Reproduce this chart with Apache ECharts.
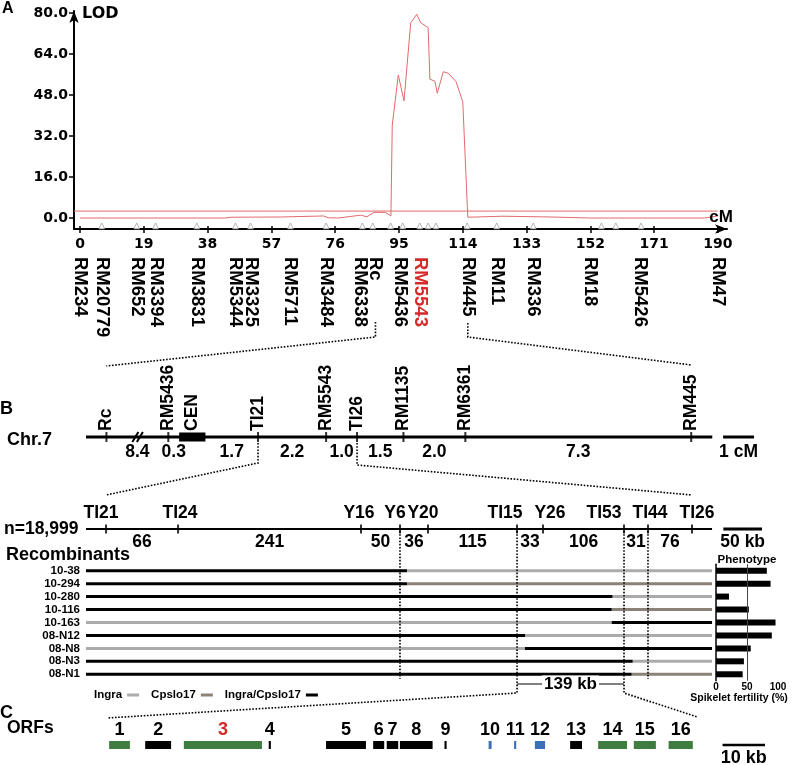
<!DOCTYPE html>
<html>
<head>
<meta charset="utf-8">
<title>Chr.7 LOD and fine map</title>
<script src="https://cdn.jsdelivr.net/npm/echarts@6.0.0/dist/echarts.min.js"></script>
<style>
html,body{margin:0;padding:0;background:#fff;}
#chart{width:797px;height:765px;}
</style>
</head>
<body>
<div id="chart"></div>
<script>
// ===== Panel A: LOD scan along chromosome 7 =====
const lodXTicks = [0, 19, 38, 57, 76, 95, 114, 133, 152, 171, 190];
const lodYTicks = [0, 16, 32, 48, 64, 80];
const lodCM    = [0, 43, 45, 60, 72.5, 74, 77, 83.5, 85.5, 87.5, 91, 92.6, 93.0, 94.8, 96.5, 98.5, 100.3, 101.5, 103.7, 104.2, 105.7, 106.4, 108.2, 109.7, 112.0, 114.0, 115.5, 126, 140, 152, 186, 190];
const lodValue = [0, 0, 0.3, 0.4, 0.8, 0.1, 0, 1.1, 0.5, 2.2, 2.2, 0.8, 36.3, 55.8, 45.7, 76.2, 79.5, 76.2, 74.3, 54.2, 53.4, 48.7, 57.1, 56.5, 53.2, 45.4, 0.3, 0.7, 0.4, 0, 0, 0.8];
const lodThreshold = 2.7;
const markerNames = ['RM234','RM20779','RM652','RM3394','RM3831','RM5344','RM3325','RM5711','RM3484','RM6338','Rc','RM5436','RM5543','RM445','RM11','RM336','RM18','RM5426','RM47'];
const markerCM    = [0, 6.5, 16.9, 22.7, 34.8, 46.2, 51.0, 62.5, 73.4, 83.5, 88.0, 95.3, 101.2, 115.5, 124.1, 135.0, 152.0, 166.8, 190];
const markerTriCM = [6.5, 16.9, 22.5, 34.8, 46.3, 50.8, 62.7, 73.3, 84.1, 87.2, 92.5, 96.1, 101.2, 103.7, 106.0, 115.3, 124.1, 135.0, 155.3, 159.6, 167.1];
const highlightMarker = 'RM5543';

// ===== Panel B: genetic map (cM, relative to TI21) =====
const chrMarkers = ['Rc','RM5436','TI21','RM5543','TI26','RM1135','RM6361','RM445'];
const chrPos     = [-4.9, -2.9, 0, 2.2, 3.2, 4.7, 6.7, 14.0];
const chrExtent  = [-5.56, 14.68];
const cenRange   = [-2.55, -1.7];
const chrBreak   = -3.9;
const chrDist    = ['8.4','0.3','1.7','2.2','1.0','1.5','2.0','7.3'];
const chrScale   = [15.03, 16.03];   // 1 cM

// ===== Panel B: physical map (kb, relative to TI21) =====
const physMarkers = ['TI21','TI24','Y16','Y6','Y20','TI15','Y26','TI53','TI44','TI26'];
const physPos     = [0, 93.1, 329.6, 380.0, 416.2, 531.3, 564.9, 669.6, 700.6, 757.5];
const physDist    = ['66','241','50','36','115','33','106','31','76'];
const physExtent  = [-25.9, 783.4];
const physScale   = [798, 848];      // 50 kb

// ===== Recombinants =====
const recombinants = ['10-38','10-294','10-280','10-116','10-163','08-N12','08-N8','08-N3','08-N1'];
const recBreak  = [389, 389, 654.7, 653.7, 653.7, 541.6, 541.6, 680.8, 679.5];
const recLeft   = ['H','H','H','H','I','H','I','H','H'];
const recRight  = ['I','C','I','C','H','I','H','I','C'];
const fertility = [82, 88, 21, 53, 96, 90, 56, 45, 43];
const genoNames = {I: 'Ingra', C: 'Cpslo17', H: 'Ingra/Cpslo17'};

// ===== Panel C: ORFs (kb within the 139 kb region) =====
const orfLabels = ['1','2','3','4','5','6','7','8','9','10','11','12','13','14','15','16'];
const orfStart  = [0.5, 9.0, 18.1, 38.1, 51.6, 62.7, 65.9, 69.0, 79.5, 89.9, 95.9, 100.8, 109.1, 115.7, 124.1, 132.3];
const orfEnd    = [5.4, 15.1, 36.5, 38.6, 61.0, 65.3, 68.6, 76.7, 80.0, 90.6, 96.4, 103.2, 111.9, 122.5, 129.3, 138.0];
const orfType   = ['g','k','g','k','k','k','k','k','k','b','b','b','k','g','g','g'];
const candidateOrf = '3';
const regionKb  = 139;
const orfScale  = [145, 155];        // 10 kb

// ---------- styling ----------
const FONT = '"Liberation Sans", Arial, sans-serif';
const NUMFONT = '"DejaVu Sans", sans-serif';
const RED = '#d42a2a';
const LODRED = '#e36a6a';
const genoColor = {I: '#ababab', C: '#8b8277', H: '#000000'};
const orfColor = {g: '#3f7c3f', k: '#000000', b: '#3b6fb6'};
// horizontal nudges (px) of the physical-map marker names relative to their ticks
const physLabelNudge = [-5, 2, -2, -5, -5, -12, 7, -20, 2, 5];

const nearest = (arr, v) => { let b = 0, d = Infinity; arr.forEach((a, i) => { const e = Math.abs(a - v); if (e < d) { d = e; b = i; } }); return b; };
const mid = (a, b) => (a + b) / 2;

const chart = echarts.init(document.getElementById('chart'), null, {renderer: 'canvas'});

const A_X = [-1.79, 192.7], A_Y = [-4.29, 80.8];
const B_X = [-5.56, 16.1], P_X = [-25.9, 860], C_X = [0, 160];
const P_W = 685.3;
const pxPerKb = P_W / (P_X[1] - P_X[0]);

// derived label positions
const chrTopVals = chrPos.concat([mid(cenRange[0], cenRange[1])]);
const chrTopText = chrMarkers.concat(['CEN']);
const chrGapFrom = [chrPos[0], chrPos[1], cenRange[1], chrPos[2], chrPos[3], chrPos[4], chrPos[5], chrPos[6]];
const chrGapTo   = [chrPos[1], cenRange[0], chrPos[2], chrPos[3], chrPos[4], chrPos[5], chrPos[6], chrPos[7]];
const chrBotVals = chrGapFrom.map((f, i) => mid(f, chrGapTo[i])).concat([mid(chrScale[0], chrScale[1])]);
const chrBotText = chrDist.concat(['1 cM']);
const physTopVals = physPos.map((p, i) => p + physLabelNudge[i] / pxPerKb);
const physBotVals = physDist.map((d, i) => mid(physPos[i], physPos[i + 1])).concat([mid(physScale[0], physScale[1])]);
const physBotText = physDist.concat(['50 kb']);
const orfCenters = orfStart.map((s, i) => mid(s, orfEnd[i]));

const boldLabel = (size, family) => ({fontFamily: family || FONT, fontWeight: 'bold', fontSize: size, color: '#000'});
const noLine = {show: false, onZero: false};
const hiddenX = (gridIndex, ext, extra) => Object.assign({
  gridIndex, type: 'value', min: ext[0], max: ext[1],
  axisLine: noLine, axisTick: {show: false}, splitLine: {show: false}, axisLabel: {show: false}
}, extra || {});
const hiddenY = (gridIndex) => ({gridIndex, type: 'value', min: 0, max: 1, show: false, axisLine: {onZero: false}, splitLine: {show: false}});

const gridBase = {containLabel: false, outerBoundsMode: 'none'};
const option = {
  animation: false,
  backgroundColor: '#fff',
  grid: [
    Object.assign({left: 74, top: 11, width: 653, height: 218}, gridBase),      // 0 LOD
    Object.assign({left: 86, top: 436, width: 670.2, height: 2}, gridBase),     // 1 genetic map
    Object.assign({left: 86, top: 528, width: P_W, height: 2}, gridBase),       // 2 physical map
    Object.assign({left: 86, top: 564.2, width: P_W, height: 116.55}, gridBase), // 3 recombinants
    Object.assign({left: 716, top: 564.2, width: 62, height: 116.55}, gridBase), // 4 phenotype
    Object.assign({left: 107, top: 744, width: 679.2, height: 2}, gridBase)      // 5 ORFs
  ],
  legend: {
    data: ['Ingra', 'Cpslo17', 'Ingra/Cpslo17'],
    left: 94, top: 689, align: 'right', icon: 'rect', itemWidth: 12, itemHeight: 3, itemGap: 12,
    selectedMode: false, textStyle: boldLabel(11.5), padding: 0
  },
  xAxis: [
    { // 0: LOD cM numbers
      gridIndex: 0, type: 'value', min: A_X[0], max: A_X[1], position: 'bottom',
      axisLine: {show: true, onZero: false, lineStyle: {color: '#000', width: 2}, symbol: ['none', 'arrow'], symbolSize: [7, 12]},
      axisTick: {show: true, customValues: lodXTicks, length: 4, lineStyle: {color: '#000', width: 1.5}},
      axisLabel: Object.assign({customValues: lodXTicks, formatter: v => String(Math.round(v)), margin: 8}, boldLabel(14, NUMFONT)),
      splitLine: {show: false}
    },
    { // 1: LOD marker names
      gridIndex: 0, type: 'value', min: A_X[0], max: A_X[1], position: 'bottom',
      axisLine: noLine,
      axisTick: {show: true, inside: true, customValues: lodXTicks, length: 3, lineStyle: {color: '#000', width: 1.5}},
      axisLabel: Object.assign({
        customValues: markerCM, rotate: -90, margin: 28,
        formatter: v => { const n = markerNames[nearest(markerCM, v)]; return n === highlightMarker ? '{r|' + n + '}' : n; },
        rich: {r: Object.assign({}, boldLabel(18.5), {color: RED})}
      }, boldLabel(18.5)),
      splitLine: {show: false}
    },
    hiddenX(1, B_X, { // 2: genetic map marker names (top)
      position: 'top',
      axisLabel: Object.assign({show: true, customValues: chrTopVals, rotate: -90, margin: 5,
        formatter: v => chrTopText[nearest(chrTopVals, v)]}, boldLabel(17.5))
    }),
    hiddenX(1, B_X, { // 3: genetic distances (bottom)
      position: 'bottom',
      axisLabel: Object.assign({show: true, customValues: chrBotVals, margin: 5,
        formatter: v => chrBotText[nearest(chrBotVals, v)]}, boldLabel(17.5))
    }),
    hiddenX(2, P_X, { // 4: physical markers (top)
      position: 'top',
      axisLabel: Object.assign({show: true, customValues: physTopVals, margin: 6,
        formatter: v => physMarkers[nearest(physTopVals, v)]}, boldLabel(17.5))
    }),
    hiddenX(2, P_X, { // 5: physical distances (bottom)
      position: 'bottom',
      axisLabel: Object.assign({show: true, customValues: physBotVals, margin: 3,
        formatter: v => physBotText[nearest(physBotVals, v)]}, boldLabel(17.5))
    }),
    hiddenX(3, P_X), // 6: recombinant rows
    { // 7: phenotype
      gridIndex: 4, type: 'value', min: 0, max: 100, interval: 50,
      axisLine: noLine, axisTick: {show: false}, splitLine: {show: false},
      axisLabel: Object.assign({margin: 1}, boldLabel(10))
    },
    hiddenX(5, C_X, { // 8: ORF numbers (top)
      position: 'top',
      axisLabel: Object.assign({show: true, customValues: orfCenters, margin: 5,
        formatter: v => { const n = orfLabels[nearest(orfCenters, v)]; return n === candidateOrf ? '{r|' + n + '}' : n; },
        rich: {r: Object.assign({}, boldLabel(18), {color: RED})}}, boldLabel(18))
    }),
    hiddenX(5, C_X, { // 9: ORF scale (bottom)
      position: 'bottom',
      axisLabel: Object.assign({show: true, customValues: [mid(orfScale[0], orfScale[1])], margin: 3,
        formatter: () => '10 kb'}, boldLabel(18))
    })
  ],
  yAxis: [
    { // 0: LOD
      gridIndex: 0, type: 'value', min: A_Y[0], max: A_Y[1],
      axisLine: {show: true, onZero: false, lineStyle: {color: '#000', width: 2}, symbol: ['none', 'arrow'], symbolSize: [7, 12]},
      axisTick: {show: true, customValues: lodYTicks, length: 5, lineStyle: {color: '#000', width: 1.5}},
      axisLabel: Object.assign({customValues: lodYTicks, formatter: v => v.toFixed(1), margin: 6}, boldLabel(14, NUMFONT)),
      splitLine: {show: false}
    },
    hiddenY(1),
    hiddenY(2),
    { // 3: recombinant names
      gridIndex: 3, type: 'category', data: recombinants, inverse: true,
      axisLine: noLine, axisTick: {show: false}, splitLine: {show: false},
      axisLabel: Object.assign({margin: 6, interval: 0}, boldLabel(11.5))
    },
    { // 4: phenotype rows
      gridIndex: 4, type: 'category', data: recombinants, inverse: true,
      axisLine: {show: true, onZero: false, lineStyle: {color: '#000', width: 1.5}},
      axisTick: {show: false}, axisLabel: {show: false}, splitLine: {show: false}
    },
    hiddenY(5)
  ],
  series: []
};

// --- A series ---
option.series.push({
  type: 'line', xAxisIndex: 0, yAxisIndex: 0, showSymbol: false, symbol: 'none', silent: true, z: 4,
  lineStyle: {color: LODRED, width: 1}, data: lodCM.map((x, i) => [x, lodValue[i]])
});
option.series.push({
  type: 'line', xAxisIndex: 0, yAxisIndex: 0, showSymbol: false, symbol: 'none', silent: true, z: 3,
  lineStyle: {color: LODRED, width: 1}, data: [[A_X[0], lodThreshold], [lodXTicks[lodXTicks.length - 1], lodThreshold]]
});
option.series.push({
  type: 'scatter', xAxisIndex: 0, yAxisIndex: 0, symbol: 'triangle', symbolSize: [6, 6], symbolOffset: [0, -3],
  clip: false, silent: true, z: 5,
  itemStyle: {color: '#fff', borderColor: '#8a8a8a', borderWidth: 0.8},
  data: markerTriCM.map(x => [x, A_Y[0]])
});

// --- B genetic map ---
option.series.push({
  type: 'line', xAxisIndex: 2, yAxisIndex: 1, symbol: 'none', clip: false, silent: true,
  lineStyle: {color: '#000', width: 3}, data: [[chrExtent[0], 0.5], [chrExtent[1], 0.5]]
});
option.series.push({
  type: 'scatter', xAxisIndex: 2, yAxisIndex: 1, symbol: 'rect', symbolSize: [2, 10], clip: false, silent: true,
  itemStyle: {color: '#000'}, data: chrPos.map(x => [x, 0.5])
});
option.series.push({
  type: 'custom', xAxisIndex: 2, yAxisIndex: 1, clip: false, silent: true,
  data: [[cenRange[0], cenRange[1], 0.5]],
  encode: {x: [0, 1], y: 2},
  renderItem: (params, api) => {
    const p1 = api.coord([api.value(0), api.value(2)]);
    const p2 = api.coord([api.value(1), api.value(2)]);
    return {type: 'rect', shape: {x: p1[0], y: p1[1] - 4.5, width: p2[0] - p1[0], height: 9}, style: {fill: '#000'}};
  }
});
option.series.push({
  type: 'custom', xAxisIndex: 2, yAxisIndex: 1, clip: false, silent: true,
  data: [[chrBreak, 0.5]],
  encode: {x: 0, y: 1},
  renderItem: (params, api) => {
    const p = api.coord([api.value(0), api.value(1)]);
    const mk = dx => ({type: 'line', shape: {x1: p[0] + dx - 3, y1: p[1] + 5, x2: p[0] + dx + 3, y2: p[1] - 5}, style: {stroke: '#000', lineWidth: 2}});
    return {type: 'group', children: [mk(-2), mk(2.5)]};
  }
});
option.series.push({
  type: 'line', xAxisIndex: 2, yAxisIndex: 1, symbol: 'none', clip: false, silent: true,
  lineStyle: {color: '#000', width: 3}, data: chrScale.map(x => [x, 0.5])
});

// --- B physical map ---
option.series.push({
  type: 'line', xAxisIndex: 4, yAxisIndex: 2, symbol: 'none', clip: false, silent: true,
  lineStyle: {color: '#000', width: 2}, data: [[physExtent[0], 0.5], [physExtent[1], 0.5]]
});
option.series.push({
  type: 'scatter', xAxisIndex: 4, yAxisIndex: 2, symbol: 'rect', symbolSize: [2, 9], clip: false, silent: true,
  itemStyle: {color: '#000'}, data: physPos.map(x => [x, 0.5])
});
option.series.push({
  type: 'line', xAxisIndex: 4, yAxisIndex: 2, symbol: 'none', clip: false, silent: true,
  lineStyle: {color: '#000', width: 3}, data: physScale.map(x => [x, 0.5])
});

// --- recombinant genotype segments ---
['I', 'C', 'H'].forEach(g => {
  const segs = [];
  recombinants.forEach((r, i) => {
    if (recLeft[i] === g) segs.push([physExtent[0], recBreak[i], r]);
    if (recRight[i] === g) segs.push([recBreak[i], physExtent[1], r]);
  });
  option.series.push({
    name: genoNames[g], type: 'custom', xAxisIndex: 6, yAxisIndex: 3, clip: false, silent: true,
    itemStyle: {color: genoColor[g]},
    encode: {x: [0, 1], y: 2},
    data: segs,
    renderItem: (params, api) => {
      const p1 = api.coord([api.value(0), api.value(2)]);
      const p2 = api.coord([api.value(1), api.value(2)]);
      return {type: 'rect', shape: {x: p1[0], y: p1[1] - 1.5, width: p2[0] - p1[0], height: 3}, style: {fill: api.visual('color')}};
    }
  });
});

// --- phenotype bars ---
option.series.push({
  type: 'bar', xAxisIndex: 7, yAxisIndex: 4, barWidth: 6, silent: true,
  itemStyle: {color: '#000'}, data: fertility,
  markLine: {silent: true, symbol: 'none', label: {show: false}, lineStyle: {color: '#444', width: 1, type: 'solid'}, data: [{xAxis: 50}]}
});

// --- ORFs ---
option.series.push({
  type: 'custom', xAxisIndex: 8, yAxisIndex: 5, clip: false, silent: true,
  encode: {x: [0, 1], y: 2},
  data: orfStart.map((s, i) => [s, orfEnd[i], 0.5, i]),
  renderItem: (params, api) => {
    const p1 = api.coord([api.value(0), api.value(2)]);
    const p2 = api.coord([api.value(1), api.value(2)]);
    const t = orfType[api.value(3)];
    return {type: 'rect', shape: {x: p1[0], y: p1[1] - 4, width: Math.max(p2[0] - p1[0], 1.6), height: 8}, style: {fill: orfColor[t]}};
  }
});
option.series.push({
  type: 'line', xAxisIndex: 8, yAxisIndex: 5, symbol: 'none', clip: false, silent: true,
  lineStyle: {color: '#000', width: 2.5}, data: orfScale.map(x => [x, 0.5])
});

chart.setOption(option);

// ---------- text and connector graphics (positions from the axes) ----------
const px = (xi, v) => chart.convertToPixel({xAxisIndex: xi}, v);
const txt = (id, text, x, y, size, align, family, extra) => ({
  type: 'text', id, z: 100, silent: true,
  style: Object.assign({text, x, y, fill: '#000', fontFamily: family || FONT, fontWeight: 'bold', fontSize: size,
    align: align || 'left', verticalAlign: 'middle'}, extra || {})
});
const dots = (id, pts) => ({
  type: 'polyline', id, z: 90, silent: true, shape: {points: pts},
  style: {stroke: '#000', lineWidth: 1.6, lineDash: [1.6, 1.6], fill: null}
});
const xRcA = px(1, markerCM[markerNames.indexOf('Rc')]);
const x445A = px(1, markerCM[markerNames.indexOf('RM445')]);
const xRcB = px(2, chrPos[chrMarkers.indexOf('Rc')]);
const x445B = px(2, chrPos[chrMarkers.indexOf('RM445')]);
const xTI21B = px(2, chrPos[chrMarkers.indexOf('TI21')]);
const xTI26B = px(2, chrPos[chrMarkers.indexOf('TI26')]);
const pp = name => px(4, physPos[physMarkers.indexOf(name)]);
const xC0 = px(8, 0), xC1 = px(8, regionKb);
const x15 = pp('TI15'), x53 = pp('TI53');

const elements = [
  txt('tA', 'A', 2, 9, 16),
  txt('tLOD', 'LOD', 82, 14, 16, 'left', NUMFONT),
  txt('tcM', 'cM', 721, 217, 17, 'center'),
  txt('tB', 'B', 0, 409, 18),
  txt('tChr', 'Chr.7', 7, 440, 18),
  txt('tN', 'n=18,999', 4, 529, 17.5),
  txt('tRec', 'Recombinants', 6, 555, 18),
  txt('tPhen', 'Phenotype', 747, 560, 11.5, 'center'),
  txt('tSpk', 'Spikelet fertility (%)', 739, 698, 10.5, 'center'),
  txt('tC', 'C', 0, 713, 18),
  txt('tORF', 'ORFs', 7, 728, 17.5),
  dots('c1', [[xRcA, 322], [xRcA, 337], [xRcB, 366]]),
  dots('c2', [[x445A, 323], [x445A, 337], [x445B, 365]]),
  dots('c3', [[xTI21B, 443], [xTI21B, 463], [pp('TI21'), 495]]),
  dots('c4', [[xTI26B, 443], [xTI26B, 465], [pp('TI26'), 495]]),
  dots('c5', [[pp('Y6'), 531], [pp('Y6'), 679]]),
  dots('c6', [[pp('TI44'), 531], [pp('TI44'), 679]]),
  dots('c7', [[x15, 531], [x15, 693], [xC0, 718]]),
  dots('c8', [[x53, 531], [x53, 693], [xC1, 717]]),
  {type: 'line', id: 'kbLine', z: 95, silent: true, shape: {x1: x15, y1: 684, x2: x53, y2: 684}, style: {stroke: '#000', lineWidth: 1}},
  txt('tKb', regionKb + ' kb', (x15 + x53) / 2, 684, 17, 'center', FONT, {backgroundColor: '#fff', padding: [0, 2]})
];
chart.setOption({graphic: {elements}});
</script>
</body>
</html>
